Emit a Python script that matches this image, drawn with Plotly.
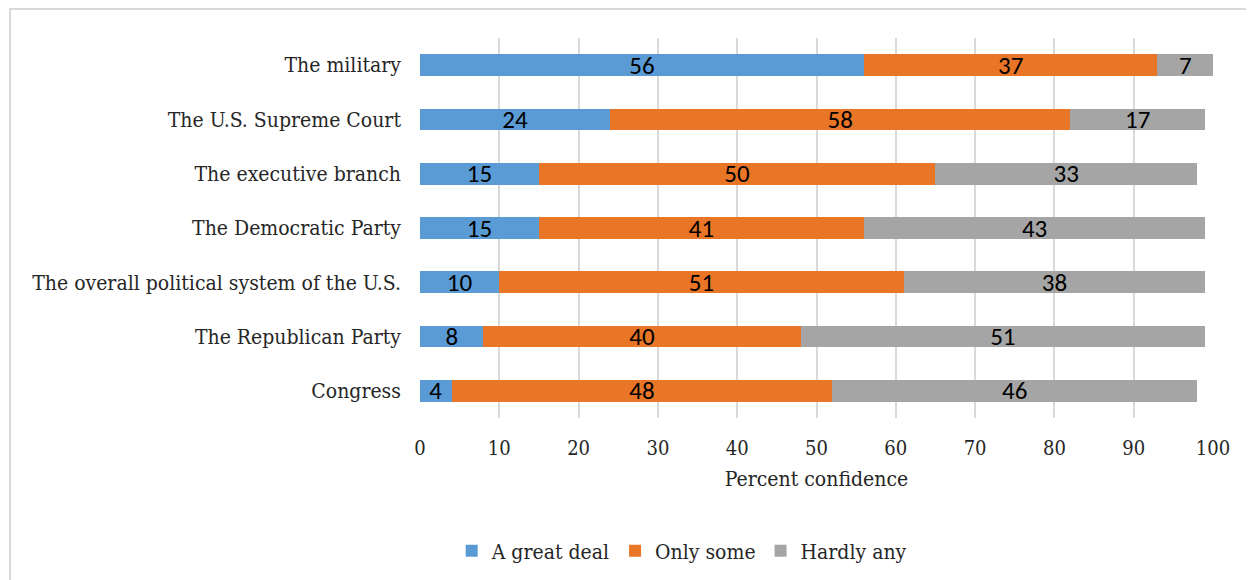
import plotly.graph_objects as go

categories = ["The military", "The U.S. Supreme Court", "The executive branch",
              "The Democratic Party", "The overall political system of the U.S.",
              "The Republican Party", "Congress"]
great_deal = [56, 24, 15, 15, 10, 8, 4]
only_some = [37, 58, 50, 41, 51, 40, 48]
hardly_any = [7, 17, 33, 43, 38, 51, 46]
series_names = ["A great deal", "Only some", "Hardly any"]
colors = ["#5B9BD5", "#E97527", "#A5A5A5"]
x_ticks = list(range(0, 101, 10))

SERIF = "DejaVu Serif Condensed, DejaVu Serif, serif"
LABEL = "Carlito, Lato, sans-serif"

PL, PT, PW, PH = 412, 30, 793, 380

fig = go.Figure()
for name, vals, col in zip(series_names, [great_deal, only_some, hardly_any], colors):
    fig.add_trace(go.Bar(
        y=categories, x=vals, name=name, orientation="h",
        marker=dict(color=col, line=dict(width=0)),
        text=[str(v) for v in vals], textposition="inside", textangle=0,
        insidetextanchor="middle", constraintext="none",
        textfont=dict(family=LABEL, size=25, color="#000000"),
    ))

fig.update_layout(
    barmode="stack", bargap=0.6,
    width=1254, height=580,
    margin=dict(l=PL, r=1254 - PL - PW, t=PT, b=580 - PT - PH, autoexpand=False),
    paper_bgcolor="white", plot_bgcolor="white",
    font=dict(family=SERIF, size=21, color="#262626"),
    uniformtext=dict(mode=False),
    xaxis=dict(range=[0, 100], tickvals=x_ticks, showgrid=True,
               gridcolor="#D9D9D9", gridwidth=1.5, zeroline=False,
               showline=False, ticks="", ticklabelstandoff=16,
               tickfont=dict(family=SERIF, size=20, color="#262626"),
               title=dict(text="Percent confidence", standoff=12,
                          font=dict(family=SERIF, size=21, color="#262626"))),
    yaxis=dict(categoryorder="array", categoryarray=categories[::-1],
               showgrid=False, showline=False, ticks="",
               ticklabelstandoff=18,
               tickfont=dict(family=SERIF, size=21, color="#262626")),
    legend=dict(orientation="h", x=0.33, xanchor="center", y=-0.35,
                yanchor="middle", font=dict(family=SERIF, size=21, color="#262626"),
                itemwidth=30, traceorder="normal"),
    showlegend=True,
)

fig.add_shape(type="rect", xref="paper", yref="paper",
              x0=(2 - PL) / PW, x1=1.2, y0=-0.6, y1=(PT + PH - 1) / PH,
              line=dict(color="#D9D9D9", width=2), fillcolor="rgba(0,0,0,0)",
              layer="below")

fig.write_html("out.html")
